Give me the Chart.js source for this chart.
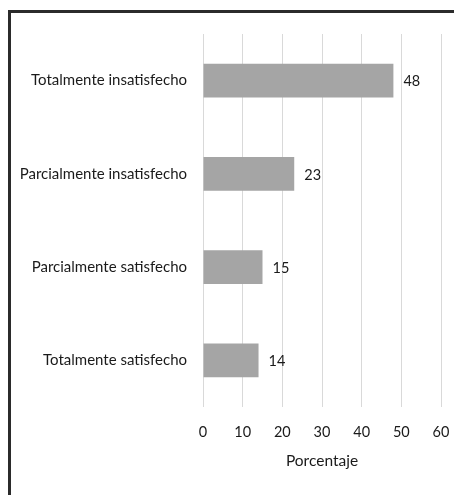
<!DOCTYPE html>
<html>
<head>
<meta charset="utf-8">
<script src="https://cdn.jsdelivr.net/npm/chart.js@4.4.1/dist/chart.umd.min.js"></script>
<style>
  html, body { margin: 0; padding: 0; background: #fff; }
  #wrap { position: relative; width: 454px; height: 495px; overflow: hidden; }
  #frame { position: absolute; left: 8px; top: 10px; width: 460px; height: 500px; border: 3px solid #2b2b2b; box-sizing: border-box; }
  canvas { position: absolute; left: 0; top: 0; }
</style>
</head>
<body>
<div id="wrap">
  <div id="frame"></div>
  <canvas id="myChart" width="454" height="495"></canvas>
</div>
<script>
const categories = ['Totalmente insatisfecho', 'Parcialmente insatisfecho', 'Parcialmente satisfecho', 'Totalmente satisfecho'];
const values = [48, 23, 15, 14];
const xTicks = [0, 10, 20, 30, 40, 50, 60];

const fontFamily = 'Lato, "Open Sans", sans-serif';

// valores a la derecha de cada barra
const barLabels = {
  id: 'barLabels',
  afterDatasetsDraw(chart) {
    const ctx = chart.ctx;
    const meta = chart.getDatasetMeta(0);
    ctx.save();
    ctx.font = '14.5px ' + fontFamily;
    ctx.fillStyle = '#1a1a1a';
    ctx.textAlign = 'left';
    ctx.textBaseline = 'middle';
    meta.data.forEach(function (bar, i) {
      ctx.fillText(values[i], bar.x + 10, bar.y + 1);
    });
    ctx.restore();
  }
};

const ctx = document.getElementById('myChart');

new Chart(ctx, {
  type: 'bar',
  data: {
    labels: categories,
    datasets: [{
      data: values,
      backgroundColor: '#a5a5a5',
      borderWidth: 0,
      barPercentage: 0.36,
      categoryPercentage: 1
    }]
  },
  options: {
    indexAxis: 'y',
    responsive: false,
    animation: false,
    layout: { padding: { top: 34, right: 13, left: 0, bottom: 0 } },
    plugins: { legend: { display: false }, tooltip: { enabled: false } },
    scales: {
      x: {
        min: 0,
        max: 60,
        afterBuildTicks(scale) {
          scale.ticks = xTicks.map(v => ({ value: v }));
        },
        afterFit(scale) {
          scale.height = 88;
          scale.paddingLeft = 0;
          scale.paddingRight = 0;
        },
        grid: { color: '#d9d9d9', drawTicks: false },
        border: { display: false },
        ticks: { padding: 17, color: '#1a1a1a', font: { family: fontFamily, size: 14.5 } },
        title: {
          display: true,
          text: 'Porcentaje',
          color: '#1a1a1a',
          font: { family: fontFamily, size: 15.5 },
          padding: { top: 0, bottom: 25 }
        }
      },
      y: {
        afterFit(scale) {
          scale.width = 203;
          scale.paddingTop = 0;
          scale.paddingBottom = 0;
        },
        grid: { display: false, drawTicks: false },
        border: { display: false },
        ticks: { padding: 16, color: '#1a1a1a', font: { family: fontFamily, size: 15 } }
      }
    }
  },
  plugins: [barLabels]
});
</script>
</body>
</html>
